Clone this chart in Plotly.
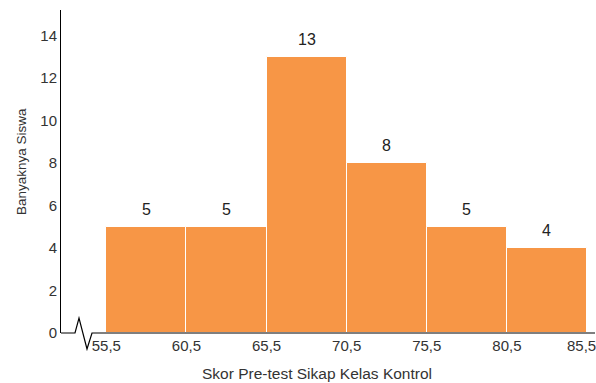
import plotly.graph_objects as go

# Class boundaries (lower edges), class width and frequencies
lower_edges = [55.5, 60.5, 65.5, 70.5, 75.5, 80.5]
class_width = 5
frequencies = [5, 5, 13, 8, 5, 4]
x_tick_values = [55.5, 60.5, 65.5, 70.5, 75.5, 80.5, 85.5]
x_tick_labels = ["55,5", "60,5", "65,5", "70,5", "75,5", "80,5", "85,5"]
y_tick_values = [0, 2, 4, 6, 8, 10, 12, 14]

midpoints = [e + class_width / 2 for e in lower_edges]

W, H = 596, 383
ML, MR, MT, MB = 61, 1, 10, 50
plot_w = W - ML - MR
plot_h = H - MT - MB

FONT = "Liberation Sans, Arial, sans-serif"
TEXT_COLOR = "#333333"

fig = go.Figure(
    go.Bar(
        x=midpoints,
        y=frequencies,
        width=[class_width] * len(midpoints),
        marker=dict(color="#F79646", line=dict(color="#FFFFFF", width=1)),
        hoverinfo="skip",
    )
)

# frequency labels above each bar
annotations = []
for xm, f in zip(midpoints, frequencies):
    annotations.append(
        dict(
            x=xm, y=f, xref="x", yref="y",
            text=str(f), showarrow=False,
            xanchor="center", yanchor="bottom", yshift=7,
            font=dict(family=FONT, size=16, color="#222222"),
        )
    )

# last x tick label pulled inside the right edge
annotations.append(
    dict(
        x=x_tick_values[-1], y=0, xref="x", yref="paper",
        text=x_tick_labels[-1], showarrow=False,
        xanchor="center", yanchor="top", xshift=-5, yshift=-2,
        font=dict(family=FONT, size=15, color=TEXT_COLOR),
    )
)


def px_to_paper(px, py):
    return (px - ML) / plot_w, (H - MB - py) / plot_h


# x-axis baseline with a break symbol near the origin
pts = [(61, 333), (75, 333), (79, 318), (87, 349), (92, 333), (595, 333)]
path = ""
for i, (px, py) in enumerate(pts):
    xp, yp = px_to_paper(px, py)
    path += ("M" if i == 0 else " L") + f" {xp:.5f},{yp:.5f}"

fig.add_shape(
    type="path",
    path=path,
    xref="paper",
    yref="paper",
    line=dict(color="#000000", width=1.2),
    layer="above",
)

annotations += [
    dict(
        text="Skor Pre-test Sikap Kelas Kontrol",
        xref="paper", yref="paper",
        x=(317 - ML) / plot_w, y=(H - MB - 373) / plot_h,
        xanchor="center", yanchor="middle",
        showarrow=False,
        font=dict(family=FONT, size=15.5, color=TEXT_COLOR),
    ),
    dict(
        text="Banyaknya Siswa",
        xref="paper", yref="paper",
        x=(21 - ML) / plot_w, y=(H - MB - 162) / plot_h,
        xanchor="center", yanchor="middle",
        textangle=-90,
        showarrow=False,
        font=dict(family=FONT, size=13.5, color=TEXT_COLOR),
    ),
]

fig.update_layout(
    width=W,
    height=H,
    margin=dict(l=ML, r=MR, t=MT, b=MB),
    paper_bgcolor="white",
    plot_bgcolor="white",
    showlegend=False,
    bargap=0,
    font=dict(family=FONT, size=15, color=TEXT_COLOR),
    xaxis=dict(
        range=[52.67, 86.0],
        tickvals=x_tick_values[:-1],
        ticktext=x_tick_labels[:-1],
        showgrid=False,
        zeroline=False,
        showline=False,
        ticks="",
        ticklabelstandoff=2,
        tickfont=dict(family=FONT, size=15, color=TEXT_COLOR),
        title=None,
    ),
    yaxis=dict(
        range=[0, 15.2],
        tickvals=y_tick_values,
        showgrid=False,
        zeroline=False,
        showline=True,
        linecolor="#000000",
        linewidth=1,
        ticks="",
        tickfont=dict(family=FONT, size=15, color=TEXT_COLOR),
        title=None,
    ),
    annotations=annotations,
)

fig.write_html("out.html")
